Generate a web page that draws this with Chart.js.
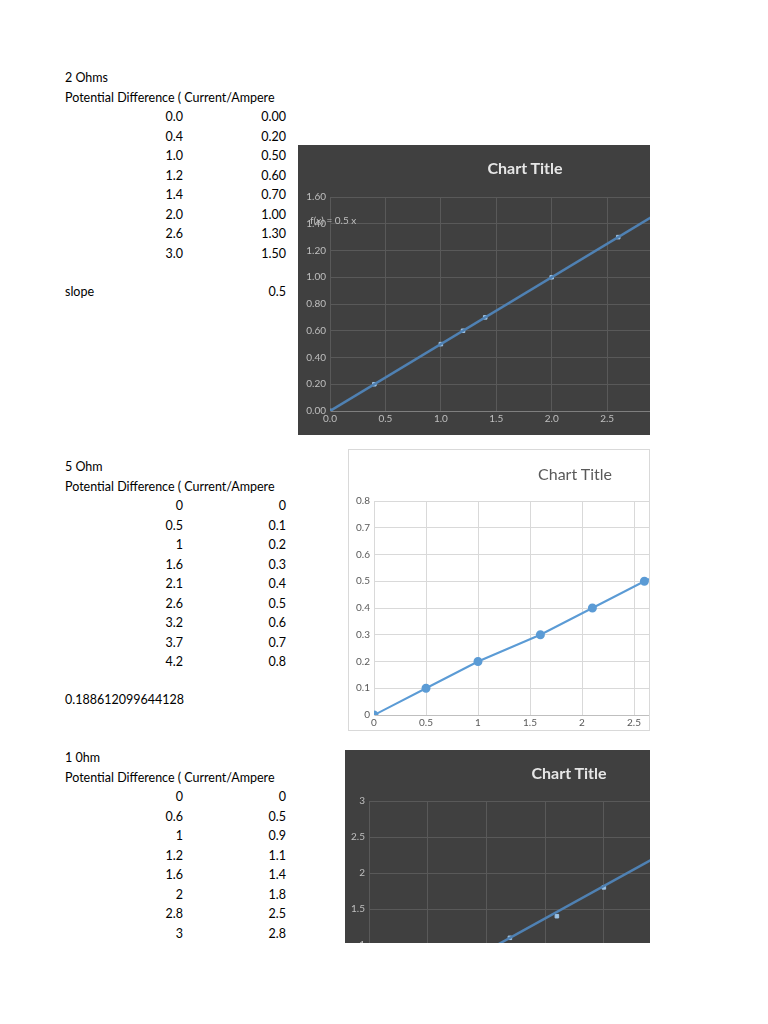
<!DOCTYPE html><html><head><meta charset="utf-8">
<script src="https://cdn.jsdelivr.net/npm/chart.js@4"></script>
<style>
body{margin:0;background:#fff;font-family:Lato,"Open Sans",sans-serif;font-size:12.5px;color:#000}
.t{position:absolute;line-height:16px;white-space:nowrap}
.r{text-align:right}
.box{position:absolute;overflow:hidden}
.ttl{position:absolute;text-align:center;font-size:16px;line-height:20px}
</style></head><body>
<script>
// Data
const v2 = ["0.0","0.4","1.0","1.2","1.4","2.0","2.6","3.0"];
const i2 = ["0.00","0.20","0.50","0.60","0.70","1.00","1.30","1.50"];
const v5 = ["0","0.5","1","1.6","2.1","2.6","3.2","3.7","4.2"];
const i5 = ["0","0.1","0.2","0.3","0.4","0.5","0.6","0.7","0.8"];
const v1 = ["0","0.6","1","1.2","1.6","2","2.8","3"];
const i1 = ["0","0.5","0.9","1.1","1.4","1.8","2.5","2.8"];
const trend2 = [[0,0],[3.5,1.75]];
const trend1 = [[0,0.02],[3.5,3.17]];

function txt(s,x,y,cls,w){const d=document.createElement('div');d.className='t '+(cls||'');d.textContent=s;d.style.top=(y-8)+'px';
 if(cls==='r'){d.style.left=(x-(w||60))+'px';d.style.width=(w||60)+'px';}else d.style.left=x+'px';document.body.appendChild(d);}
function section(title,y0,v,i){txt(title,65,y0);txt("Potential Difference ( Current/Ampere",65,y0+19.5);
 v.forEach((s,k)=>{txt(s,183,y0+39+k*19.5,'r');txt(s===s?i[k]:'',286,y0+39+k*19.5,'r');});}
section("2 Ohms",78,v2,i2);
txt("slope",65,292);txt("0.5",286,292,'r');
section("5 Ohm",467,v5,i5);
txt("0.188612099644128",65,700);
section("1 0hm",758,v1,i1);

function pts(v,i){return v.map((s,k)=>({x:+s,y:+i[k]}));}
function mk(o){
 const box=document.createElement('div');box.className='box';
 Object.assign(box.style,{left:o.l+'px',top:o.t+'px',width:o.vw+'px',height:o.vh+'px',background:o.bg,border:o.border||'none',boxSizing:'border-box'});
 const c=document.createElement('canvas');c.width=o.w;c.height=o.h;c.style.position='absolute';c.style.left=(o.border?-1:0)+'px';c.style.top=(o.border?-1:0)+'px';
 box.appendChild(c);
 const tt=document.createElement('div');tt.className='ttl';tt.textContent='Chart Title';
 Object.assign(tt.style,{left:'0px',width:o.w+'px',top:(o.tt-o.t-10)+'px',color:o.tc,fontWeight:o.tb?'bold':'normal'});
 box.appendChild(tt);document.body.appendChild(box);
 if(o.note){const n=document.createElement('div');n.className='t';n.textContent=o.note;Object.assign(n.style,{left:'12px',top:'67px',color:'#bfbfbf',fontSize:'10px'});box.appendChild(n);}
 new Chart(c,{type:'scatter',data:{datasets:o.ds},options:{responsive:false,animation:false,
  layout:{padding:o.pad},plugins:{legend:{display:false},tooltip:{enabled:false}},
  scales:{x:{type:'linear',min:0,max:o.xmax,grid:{color:o.grid,drawTicks:false},border:{color:o.axis},
    ticks:{stepSize:0.5,padding:2,color:o.tk,font:{size:10,family:'Lato'},callback:v=>o.xf(v)},afterFit:s=>{s.height=o.xh}},
   y:{min:0,max:o.ymax,grid:{color:o.grid,drawTicks:false},border:{color:o.grid},
    ticks:{stepSize:o.ys,padding:4,color:o.tk,font:{size:10,family:'Lato'},callback:v=>o.yf(v)},afterFit:s=>{s.width=o.yw}}}}});
}
const blue='#5b9bd5';
mk({l:298,t:145,vw:352,vh:290,w:454,h:290,bg:'#404040',tt:168,tc:'#e6e6e6',tb:true,note:'f(x) = 0.5 x',
 pad:{top:52,right:34,left:0,bottom:4},xh:20,yw:32,xmax:3.5,ymax:1.6,ys:0.2,grid:'#595959',axis:'#7f7f7f',tk:'#bfbfbf',
 xf:v=>v.toFixed(1),yf:v=>v.toFixed(2),
 ds:[{data:trend2.map(p=>({x:p[0],y:p[1]})),showLine:true,borderColor:'#4f81b3',borderWidth:2.5,pointRadius:0},
     {data:pts(v2,i2),pointStyle:'rect',pointRadius:2.5,backgroundColor:'#9dc3e6',borderColor:'#9dc3e6'}]});
mk({l:348,t:449,vw:302,vh:282,w:452,h:282,bg:'#fff',border:'1px solid #d9d9d9',tt:473,tc:'#595959',tb:false,
 pad:{top:52,right:10,left:0,bottom:0},xh:16,yw:26,xmax:4,ymax:0.8,ys:0.1,grid:'#d9d9d9',axis:'#bfbfbf',tk:'#595959',
 xf:v=>String(v),yf:v=>String(+v.toFixed(1)),
 ds:[{data:pts(v5,i5),showLine:true,borderColor:blue,backgroundColor:blue,borderWidth:2,pointRadius:3.5}]});
mk({l:345,t:750,vw:305,vh:193,w:448,h:290,bg:'#404040',tt:773,tc:'#e6e6e6',tb:true,
 pad:{top:51,right:13,left:0,bottom:3},xh:20,yw:24,xmax:3.5,ymax:3,ys:0.5,grid:'#595959',axis:'#7f7f7f',tk:'#bfbfbf',
 xf:v=>String(v),yf:v=>String(v),
 ds:[{data:trend1.map(p=>({x:p[0],y:p[1]})),showLine:true,borderColor:'#4f81b3',borderWidth:2.5,pointRadius:0},
     {data:pts(v1,i1),pointStyle:'rect',pointRadius:2.5,backgroundColor:'#9dc3e6',borderColor:'#9dc3e6'}]});
</script></body></html>
